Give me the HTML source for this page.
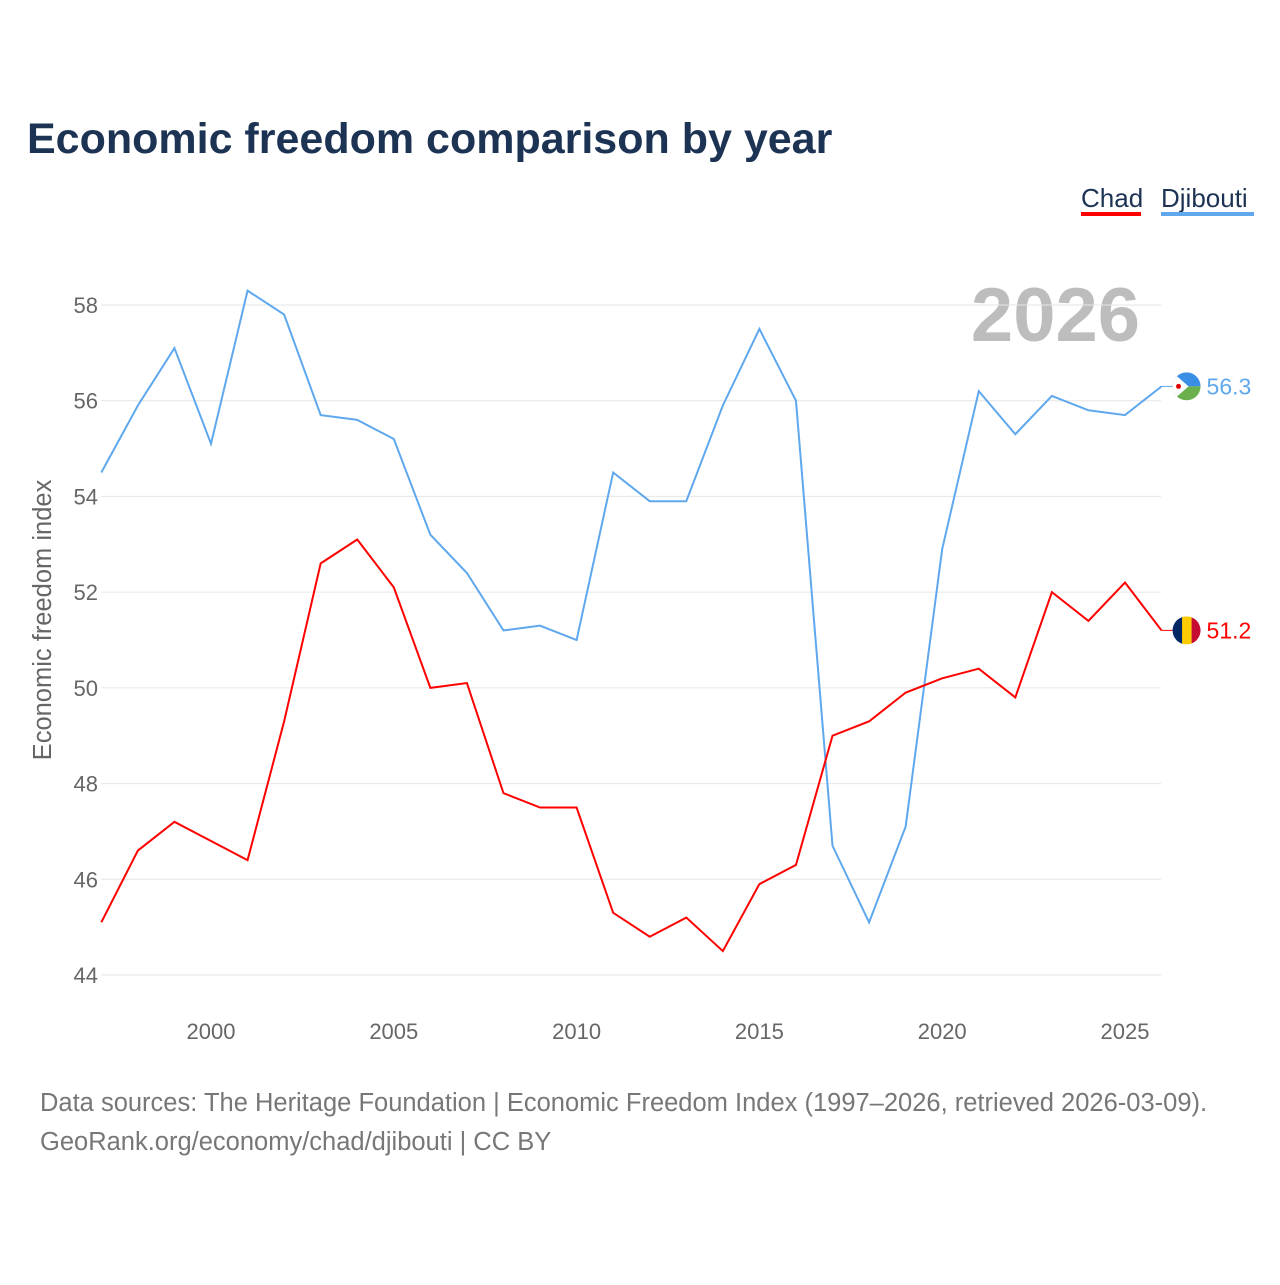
<!DOCTYPE html>
<html><head><meta charset="utf-8"><style>
body{margin:0;background:#fff;width:1280px;height:1280px;overflow:hidden;font-family:"Liberation Sans",sans-serif}
</style></head><body>
<svg id="c" width="1280" height="1280" xmlns="http://www.w3.org/2000/svg">
<text x="27" y="153" font-size="43" font-weight="bold" fill="#1c3354">Economic freedom comparison by year</text>
<g>
<text x="1081" y="207" font-size="26" fill="#1c3354">Chad</text>
<rect x="1081" y="212" width="60" height="4" fill="#f00"/>
<text x="1161" y="207" font-size="26" fill="#1c3354">Djibouti</text>
<rect x="1161" y="212" width="93" height="4" fill="#5fa8ee"/>
</g>
<text x="1140" y="341" font-size="76" font-weight="bold" fill="#bdbdbd" text-anchor="end">2026</text>
<text transform="translate(51,620) rotate(-90)" font-size="25.5" fill="#666" text-anchor="middle">Economic freedom index</text>
<g id="grid"></g><g id="lines"></g>
<text x="40" y="1111" font-size="25.5" fill="#777">Data sources: The Heritage Foundation | Economic Freedom Index (1997–2026, retrieved 2026-03-09).</text>
<text x="40" y="1150" font-size="25.5" fill="#777">GeoRank.org/economy/chad/djibouti | CC BY</text>
</svg>
<script>
const years=[1997,1998,1999,2000,2001,2002,2003,2004,2005,2006,2007,2008,2009,2010,2011,2012,2013,2014,2015,2016,2017,2018,2019,2020,2021,2022,2023,2024,2025,2026];
const chad=[45.1,46.6,47.2,46.8,46.4,49.3,52.6,53.1,52.1,50.0,50.1,47.8,47.5,47.5,45.3,44.8,45.2,44.5,45.9,46.3,49.0,49.3,49.9,50.2,50.4,49.8,52.0,51.4,52.2,51.2];
const djibouti=[54.5,55.9,57.1,55.1,58.3,57.8,55.7,55.6,55.2,53.2,52.4,51.2,51.3,51.0,54.5,53.9,53.9,55.9,57.5,56.0,46.7,45.1,47.1,52.9,56.2,55.3,56.1,55.8,55.7,56.3];
const yTicks=[44,46,48,50,52,54,56,58];
const xTicks=[2000,2005,2010,2015,2020,2025];
const NS="http://www.w3.org/2000/svg";
const X=v=>211+(v-2000)*36.56, Y=v=>305+(58-v)*47.857;
const grid=document.getElementById('grid'), lines=document.getElementById('lines');
function mk(tag,attrs,parent){const e=document.createElementNS(NS,tag);for(const k in attrs)e.setAttribute(k,attrs[k]);parent.appendChild(e);return e;}
yTicks.forEach(t=>{
 const l=mk('line',{x1:101,x2:1161,y1:Y(t),y2:Y(t),stroke:'#e6e6e6','stroke-width':1},grid);
 
 
 const tx=mk('text',{x:98,y:Y(t)+8,'font-size':22,fill:'#666','text-anchor':'end'},grid);
 tx.textContent=t;
 
 
});
xTicks.forEach(t=>{
 const tx=mk('text',{x:X(t),y:1039,'font-size':22,fill:'#666','text-anchor':'middle'},grid);
 tx.textContent=t;
 
 
});
function series(vals,color,name,flag){
 const p=mk('polyline',{points:vals.map((v,i)=>X(years[i])+','+Y(v)).join(' '),fill:'none',stroke:color,'stroke-width':2},lines);
 
 
 const last=vals[vals.length-1], cx=X(years[years.length-1])+25, cy=Y(last);
 mk('line',{x1:X(years[years.length-1]),x2:cx,y1:cy,y2:cy,stroke:color,'stroke-width':1},lines);
 const g=mk('g',{},lines);
 
 
 flag(g,cx,cy);
 const t=mk('text',{x:cx+20,y:cy+8,'font-size':23,fill:color},lines);
 t.textContent=last.toFixed(1);
 
 
}
series(djibouti,'#5fa8ee','djibouti',(g,cx,cy)=>{
 mk('defs',{},g).innerHTML='<clipPath id="cd"><circle cx="'+cx+'" cy="'+cy+'" r="14"/></clipPath>';
 const h=mk('g',{'clip-path':'url(#cd)'},g);
 mk('rect',{x:cx-14,y:cy-14,width:28,height:14,fill:'#3a8ee6'},h);
 mk('rect',{x:cx-14,y:cy,width:28,height:14,fill:'#6ab04c'},h);
 mk('polygon',{points:(cx-14)+','+(cy-14)+' '+(cx+2)+','+cy+' '+(cx-14)+','+(cy+14),fill:'#fff'},h);
 mk('circle',{cx:cx-8,cy:cy,r:2.5,fill:'#d00'},h);
});
series(chad,'#f00','chad',(g,cx,cy)=>{
 mk('defs',{},g).innerHTML='<clipPath id="cc"><circle cx="'+cx+'" cy="'+cy+'" r="14"/></clipPath>';
 const h=mk('g',{'clip-path':'url(#cc)'},g);
 mk('rect',{x:cx-14,y:cy-14,width:10,height:28,fill:'#002664'},h);
 mk('rect',{x:cx-4.5,y:cy-14,width:9.5,height:28,fill:'#fecb00'},h);
 mk('rect',{x:cx+5,y:cy-14,width:10,height:28,fill:'#c60c30'},h);
});
</script>
</body></html>
